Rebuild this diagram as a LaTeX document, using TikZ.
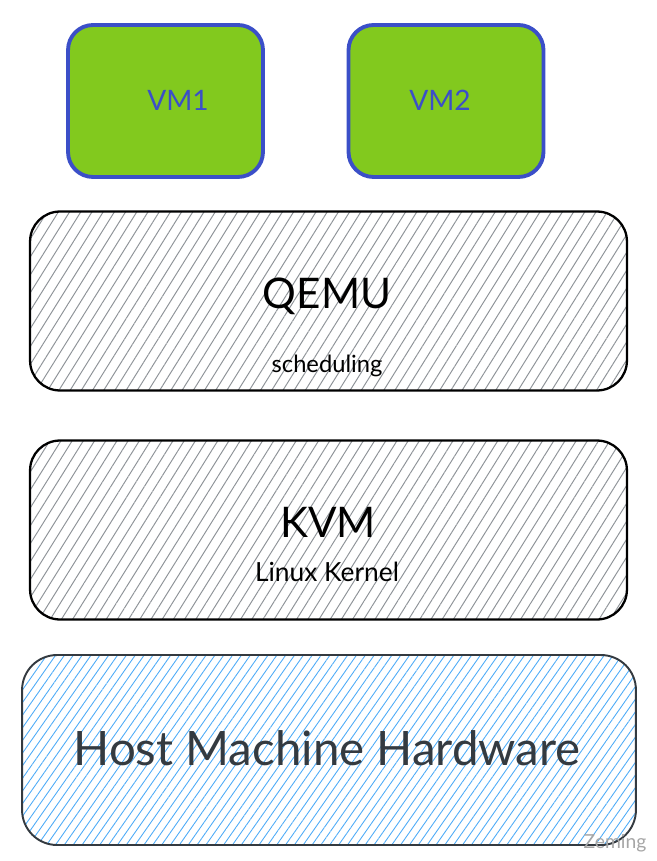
\documentclass[tikz,border=0pt]{standalone}
\usepackage{fontspec}
\setmainfont{Lato}
\usepackage{xcolor}
\usetikzlibrary{positioning}
\usetikzlibrary{patterns.meta}

\definecolor{vmgreen}{HTML}{82C91E}
\definecolor{vmblue}{HTML}{3B4FC8}
\definecolor{hatchgray}{HTML}{8E9398}
\definecolor{hatchblue}{HTML}{4DABF7}
\definecolor{hostgray}{HTML}{343A40}

\begin{document}
\begin{tikzpicture}[x=0.02cm,y=-0.02cm,
  vmbox/.style={draw=vmblue,fill=vmgreen,line width=2.2pt,rounded corners=0.5cm,
    minimum width=3.9cm,minimum height=3.04cm},
  layerbox/.style={draw=black,line width=1.3pt,rounded corners=0.6cm,
    minimum width=11.94cm,minimum height=3.58cm,
    pattern={Lines[angle=58,distance=0.19cm,line width=0.55pt]},pattern color=hatchgray},
  hostbox/.style={draw=hostgray,line width=1.1pt,rounded corners=0.7cm,
    minimum width=12.28cm,minimum height=3.8cm,
    pattern={Lines[angle=55,distance=0.145cm,line width=0.5pt]},pattern color=hatchblue},
  bigtext/.style={font=\fontsize{24}{28}\selectfont},
  smalltext/.style={font=\fontsize{13.5}{16}\selectfont}]
\useasboundingbox (0,0) rectangle (656,861);

% guests
\node [vmbox] (vmone) at (165.5,101) {};
\node [vmbox] (vmtwo) at (446,101) {};
\node [text=vmblue,font=\fontsize{16}{19}\selectfont] (vmonetext) at (178,100) {VM1};
\node [text=vmblue,font=\fontsize{16}{19}\selectfont] (vmtwotext) at (440,100) {VM2};

% qemu
\node [layerbox] (qemu) at (328.5,301) {};
\node [bigtext] (qemutext) at (327,296) {QEMU};
\node [smalltext] (schedtext) at (327,366) {scheduling};

% kvm
\node [layerbox] (kvm) at (328.5,530) {};
\node [bigtext] (kvmtext) at (328,522) {KVM};
\node [smalltext,font=\fontsize{15}{18}\selectfont] (kerneltext) at (327,572) {Linux Kernel};

% hardware
\node [hostbox] (host) at (329,750) {};
\node [text=hostgray,font=\fontsize{27}{32}\selectfont] (hosttext) at (327,748) {Host Machine Hardware};

\node [text=gray!70,font=\fontsize{11}{13}\selectfont] (mark) at (615,843) {Zeming};

\end{tikzpicture}
\end{document}
